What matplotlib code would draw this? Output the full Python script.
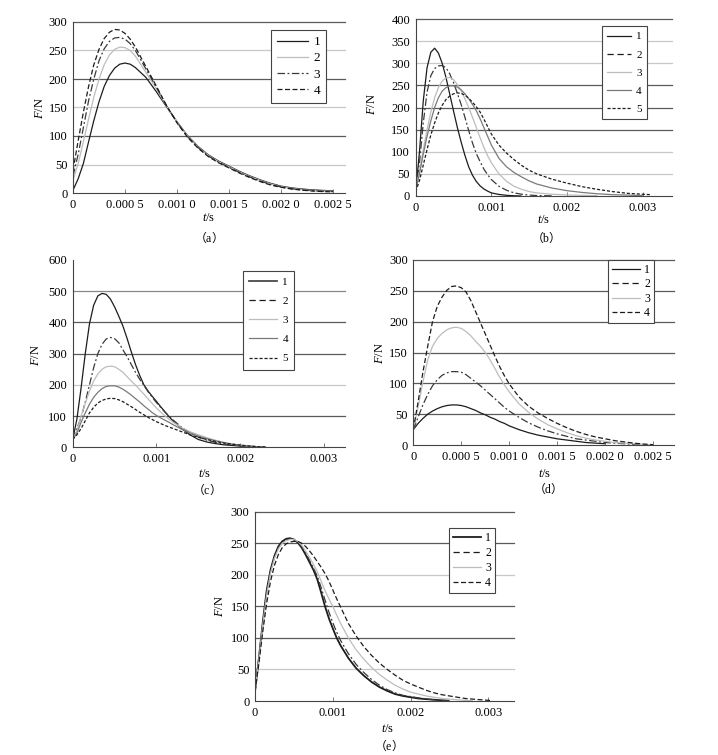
import matplotlib
matplotlib.use("Agg")
import matplotlib.pyplot as plt
from matplotlib.lines import Line2D

plt.rcParams["font.family"] = ["Liberation Serif", "Noto Sans CJK SC"]
plt.rcParams["mathtext.fontset"] = "custom"
plt.rcParams["mathtext.it"] = "Liberation Serif:italic"
plt.rcParams["mathtext.rm"] = "Liberation Serif"

# ---------------------------------------------------------------- data
# time in ms, force in N

# (a)
t_a = [0, 0.05, 0.1, 0.15, 0.2, 0.25, 0.3, 0.35, 0.4, 0.45, 0.5, 0.55, 0.6,
       0.7, 0.8, 0.9, 1.0, 1.1, 1.2, 1.3, 1.4, 1.5, 1.6, 1.7, 1.8, 1.9, 2.0,
       2.1, 2.2, 2.3, 2.4, 2.5]
a1 = [5, 25, 52, 90, 127, 160, 187, 206, 219, 226, 228, 226, 220, 203, 178,
      151, 125, 101, 82, 67, 56, 47, 38, 30, 23, 17, 12, 9, 7, 5.5, 4.5, 4]
a2 = [22, 52, 90, 130, 168, 200, 225, 242, 252, 256, 255, 250, 240, 212, 183,
      152, 125, 100, 81, 66, 55, 46, 37, 29, 22, 16, 11, 8, 6, 4.5, 3.5, 3]
a3 = [30, 68, 115, 162, 200, 232, 253, 266, 272, 273, 270, 262, 250, 218, 186,
      153, 124, 99, 80, 65, 54, 45, 36, 28, 21, 15, 10.5, 7.5, 5.5, 4, 3, 2.5]
a4 = [40, 92, 142, 187, 225, 252, 271, 282, 287, 286, 280, 270, 256, 222, 188,
      153, 123, 98, 79, 64, 53, 44, 35, 27, 20, 14, 10, 7, 5, 3.5, 2.5, 2]

# (b)
t_b = [0, 0.05, 0.1, 0.15, 0.2, 0.25, 0.3, 0.35, 0.4, 0.45, 0.5, 0.55, 0.6,
       0.65, 0.7, 0.75, 0.8, 0.85, 0.9, 0.95, 1.0, 1.1, 1.2, 1.3, 1.4, 1.5,
       1.6, 1.8, 2.0, 2.2, 2.4, 2.6, 2.8, 3.0, 3.1]
b1 = [10, 100, 215, 290, 325, 334, 323, 300, 268, 230, 192, 155, 122, 92, 66,
      47, 33, 23, 16, 11, 7, 3.5, 1.5, 0.5, 0]
b2 = [10, 75, 165, 235, 272, 288, 294, 295, 290, 276, 256, 232, 207, 178, 148,
      120, 96, 78, 61, 48, 37, 22, 13, 7, 4, 2, 1, 0.3]
b3 = [15, 55, 105, 150, 190, 222, 245, 260, 267, 268, 263, 252, 238, 220, 200,
      178, 155, 132, 110, 91, 75, 50, 33, 22, 15, 10, 7, 4, 2.5, 1.5, 0.8]
b4 = [15, 50, 95, 135, 170, 200, 222, 237, 245, 249, 249, 246, 240, 231, 220,
      207, 193, 175, 155, 135, 115, 85, 66, 53, 43, 34, 27, 18, 12, 8, 5, 3,
      2, 1]
b5 = [10, 35, 70, 105, 138, 165, 188, 205, 218, 226, 231, 233, 232, 228, 221,
      212, 202, 190, 174, 157, 140, 115, 97, 82, 69, 58, 50, 38, 29, 21, 15,
      10, 6, 4, 3]

# (c)
t_c = [0, 0.05, 0.1, 0.15, 0.2, 0.25, 0.3, 0.35, 0.4, 0.45, 0.5, 0.55, 0.6,
       0.65, 0.7, 0.75, 0.8, 0.85, 0.9, 0.95, 1.0, 1.05, 1.1, 1.15, 1.2, 1.3,
       1.4, 1.5, 1.6, 1.7, 1.8, 1.9, 2.0, 2.1, 2.2, 2.3]
c1 = [25, 90, 190, 300, 395, 455, 485, 493, 490, 475, 450, 420, 388, 348, 305,
      265, 230, 200, 180, 163, 147, 130, 114, 98, 84, 60, 40, 25, 17, 12, 8, 6,
      4, 3, 2, 1]
c2 = [25, 60, 95, 145, 200, 255, 300, 330, 347, 352, 348, 335, 312, 290, 265,
      240, 218, 198, 178, 160, 143, 128, 113, 100, 87, 64, 46, 33, 23, 16, 11,
      7, 5, 3, 2, 1]
c3 = [25, 52, 100, 140, 180, 212, 235, 250, 258, 260, 258, 250, 240, 226, 212,
      199, 185, 170, 155, 140, 126, 113, 101, 90, 80, 63, 50, 40, 31, 23, 16,
      11, 7, 4, 2, 1]
c4 = [25, 45, 80, 110, 138, 160, 176, 188, 195, 197, 197, 193, 186, 177, 167,
      156, 145, 133, 122, 111, 102, 94, 87, 80, 72, 58, 46, 36, 28, 21, 15, 10,
      7, 4, 2, 1]
c5 = [25, 40, 60, 85, 110, 128, 142, 150, 155, 157, 156, 152, 146, 138, 130,
      121, 112, 104, 96, 89, 82, 76, 70, 65, 60, 50, 40, 32, 25, 19, 14, 10, 7,
      4, 2, 1]

# (d)
t_d = [0, 0.05, 0.1, 0.15, 0.2, 0.25, 0.3, 0.35, 0.4, 0.45, 0.5, 0.55, 0.6,
       0.65, 0.7, 0.75, 0.8, 0.85, 0.9, 0.95, 1.0, 1.1, 1.2, 1.3, 1.4, 1.5,
       1.6, 1.7, 1.8, 1.9, 2.0, 2.1, 2.2, 2.3, 2.4, 2.5]
d1 = [25, 35, 43, 50, 55, 59, 62, 64, 65, 65, 64, 62, 59, 56, 52, 49, 45, 42,
      38, 35, 31, 25, 20, 16, 13, 10, 8, 6, 4, 3, 2]
d2 = [25, 45, 65, 82, 96, 106, 113, 117, 119, 119, 118, 114, 108, 102, 96, 89,
      82, 75, 68, 61, 55, 45, 36, 29, 23, 18, 14, 10, 8, 6, 4, 3, 2, 1, 0.5]
d3 = [25, 62, 102, 138, 160, 173, 181, 187, 190, 191, 189, 184, 177, 168, 160,
      150, 138, 124, 110, 97, 86, 67, 53, 42, 33, 26, 20, 15, 11, 8, 6, 4, 3,
      2, 1, 0.5]
d4 = [25, 70, 118, 160, 200, 225, 240, 251, 257, 258, 255, 248, 234, 216, 198,
      180, 162, 144, 127, 112, 99, 78, 63, 52, 43, 35, 28, 22, 17, 13, 10, 7,
      5, 3, 1.5, 0.5]

# (e)
t_e = [0, 0.05, 0.1, 0.15, 0.2, 0.25, 0.3, 0.35, 0.4, 0.45, 0.5, 0.55, 0.6,
       0.65, 0.7, 0.75, 0.8, 0.85, 0.9, 0.95, 1.0, 1.05, 1.1, 1.2, 1.3, 1.4,
       1.5, 1.6, 1.7, 1.8, 1.9, 2.0, 2.1, 2.2, 2.3, 2.4, 2.5, 2.6, 2.7, 2.8,
       2.9, 3.0, 3.05]
e1 = [15, 68, 125, 175, 208, 230, 245, 253, 257, 258, 256, 251, 243, 232, 220,
      208, 193, 172, 150, 131, 115, 100, 88, 68, 52, 40, 30, 22, 16, 11, 8, 6,
      4, 3, 2, 1, 0.5]
e2 = [15, 68, 124, 173, 206, 228, 243, 251, 255, 257, 256, 252, 245, 235, 223,
      211, 198, 180, 160, 141, 124, 109, 96, 75, 58, 45, 34, 25, 18, 13, 9, 7,
      5, 3, 2, 1.2, 0.6]
e3 = [15, 66, 120, 168, 203, 226, 241, 250, 254, 256, 256, 253, 247, 238, 228,
      217, 205, 190, 175, 162, 150, 136, 123, 100, 81, 66, 53, 42, 33, 25, 19,
      14, 11, 8, 6, 4, 3, 2, 1, 0.5]
e4 = [15, 60, 110, 155, 190, 215, 232, 243, 249, 252, 253, 253, 250, 245, 238,
      230, 221, 212, 202, 190, 176, 162, 149, 123, 103, 86, 72, 60, 50, 41, 33,
      27, 22, 17, 13, 10, 8, 6, 4, 3, 2, 1, 0.5]

labels4 = ["1", "2", "3", "4"]
labels5 = ["1", "2", "3", "4", "5"]
ticks_fine = [0, 0.0005, 0.001, 0.0015, 0.002, 0.0025]
ticks_fine_lbl = ["0", "0.000 5", "0.001 0", "0.001 5", "0.002 0", "0.002 5"]
ticks_coarse = [0, 0.001, 0.002, 0.003]
ticks_coarse_lbl = ["0", "0.001", "0.002", "0.003"]

# ---------------------------------------------------------------- styles
BLACK, DARK, MID, LIGHT = "#1c1c1c", "#3a3a3a", "#7a7a7a", "#bdbdbd"
G_DARK, G_LIGHT = "#5a5a5a", "#c8c8c8"

SOLID = dict(color=BLACK, ls="-", lw=0.9)
SOLID_THICK = dict(color=BLACK, ls="-", lw=1.3)
GREY_L = dict(color=LIGHT, ls="-", lw=0.9)
GREY_M = dict(color=MID, ls="-", lw=0.9)
DASHDOT = dict(color=DARK, ls=(0, (6, 2, 1.5, 2)), lw=0.9)
DASH = dict(color=BLACK, ls=(0, (4, 2)), lw=0.9)
DASH_LONG = dict(color=BLACK, ls=(0, (5, 3)), lw=0.9)
DASH_SHORT = dict(color=BLACK, ls=(0, (2.5, 1.5)), lw=0.9)

W, H = 718, 755
fig = plt.figure(figsize=(W / 100, H / 100), dpi=100)


def px_rect(left, top, right, bottom):
    return [left / W, 1 - bottom / H, (right - left) / W, (bottom - top) / H]


def ftext(x, y, s, **kw):
    fig.text(x / W, 1 - y / H, s, ha="center", va="center", **kw)


def panel(rect, t_ms, curves, plot_styles, legend_styles, labels, xticks,
          xlbl, xmax, ymax, ystep, grid_colors, anchor, leg_kw,
          ylab_xy, xlab_xy, cap_xy, letter):
    ax = fig.add_axes(px_rect(*rect))
    for vals, st in zip(curves, plot_styles):
        t = [v * 1e-3 for v in t_ms[:len(vals)]]
        ax.plot(t, vals, solid_capstyle="butt", **st)

    yticks = list(range(0, ymax + 1, ystep))
    # horizontal rules, alternating shades as in the source
    for y, gc in zip(yticks[1:], grid_colors):
        ax.axhline(y, color=gc, lw=0.9, zorder=0, clip_on=False)

    ax.set_xlim(0, xmax)
    ax.set_ylim(0, ymax)
    ax.set_xticks(xticks)
    ax.set_xticklabels(xlbl)
    ax.set_yticks(yticks)
    ax.tick_params(axis="x", direction="in", length=3, width=0.6,
                   color="#666", labelsize=9, pad=4)
    ax.tick_params(axis="y", length=0, labelsize=9, pad=4)
    for side in ("top", "right"):
        ax.spines[side].set_visible(False)
    for side in ("left", "bottom"):
        ax.spines[side].set_color("#444")
        ax.spines[side].set_linewidth(0.8)

    handles = [Line2D([], [], **st) for st in legend_styles]
    leg = ax.legend(handles, labels, loc="upper left", bbox_to_anchor=anchor,
                    borderaxespad=0, frameon=True, fancybox=False,
                    edgecolor="#444", framealpha=1, **leg_kw)
    leg.get_frame().set_linewidth(0.8)

    ftext(*ylab_xy, r"$F$/N", rotation=90, fontsize=9)
    ftext(*xlab_xy, r"$t$/s", fontsize=9)
    # full-width brackets from the CJK font, letter in the serif face
    ftext(*cap_xy, "（$\\mathrm{" + letter + "}$）", fontsize=8.5,
          family=["Noto Sans CJK SC", "Liberation Serif"])
    return ax


panel((73, 22, 345, 193), t_a, [a1, a2, a3, a4],
      [SOLID, GREY_L, DASHDOT, DASH], [SOLID, GREY_L, DASHDOT, DASH], labels4,
      ticks_fine, ticks_fine_lbl, 0.002615, 300, 50,
      [G_LIGHT, G_DARK, G_LIGHT, G_DARK, G_LIGHT, G_DARK],
      (0.727, 0.953),
      dict(fontsize=9.5, handlelength=2.4, labelspacing=0.3,
           handletextpad=0.4, borderpad=0.45),
      (40, 108), (209, 218), (205, 237), "a")

panel((415.7, 19, 672, 196), t_b, [b1, b2, b3, b4, b5],
      [SOLID, DASHDOT, GREY_L, GREY_M, DASH_SHORT],
      [SOLID, DASH_LONG, GREY_L, GREY_M, DASH_SHORT], labels5,
      ticks_coarse, ticks_coarse_lbl, 0.003386, 400, 50,
      [G_LIGHT, G_LIGHT, G_DARK, G_DARK, G_DARK, G_LIGHT, G_LIGHT, G_DARK],
      (0.726, 0.960),
      dict(fontsize=8, handlelength=2.1, labelspacing=0.75,
           handletextpad=0.5, borderpad=0.5),
      (372, 104), (544, 220), (543, 237), "b")

panel((72.7, 260, 345, 447.3), t_c, [c1, c2, c3, c4, c5],
      [SOLID, DASHDOT, GREY_L, GREY_M, DASH_SHORT],
      [dict(color="#4a4a4a", ls="-", lw=1.3), DASH_LONG, GREY_L, GREY_M,
       DASH_SHORT], labels5,
      ticks_coarse, ticks_coarse_lbl, 0.00325, 600, 100,
      [G_DARK, G_LIGHT, G_DARK, G_DARK, "#888"],
      (0.625, 0.943),
      dict(fontsize=8, handlelength=2.5, labelspacing=0.85,
           handletextpad=0.5, borderpad=0.55),
      (36, 355), (205, 474), (203, 489), "c")

panel((413.3, 260, 674.3, 445), t_d, [d1, d2, d3, d4],
      [SOLID, DASHDOT, GREY_L, DASH], [SOLID, DASH_LONG, GREY_L, DASH],
      labels4,
      ticks_fine, ticks_fine_lbl, 0.002719, 300, 50,
      [G_DARK] * 6,
      (0.747, 1.0),
      dict(fontsize=8.5, handlelength=2.3, labelspacing=0.2,
           handletextpad=0.4, borderpad=0.35),
      (380, 353), (545, 474), (545, 488), "d")

panel((255, 511.7, 514.3, 701), t_e, [e1, e2, e3, e4],
      [SOLID_THICK, DASHDOT, GREY_L, DASH],
      [SOLID_THICK, DASH_LONG, GREY_L, DASH], labels4,
      ticks_coarse, ticks_coarse_lbl, 0.003333, 300, 50,
      [G_LIGHT, G_DARK, G_DARK, G_LIGHT, G_DARK, G_DARK],
      (0.749, 0.912),
      dict(fontsize=8.5, handlelength=2.3, labelspacing=0.25,
           handletextpad=0.4, borderpad=0.35),
      (220, 606), (388, 729), (385, 745), "e")

fig.savefig("out.png", dpi=100, facecolor="white")
